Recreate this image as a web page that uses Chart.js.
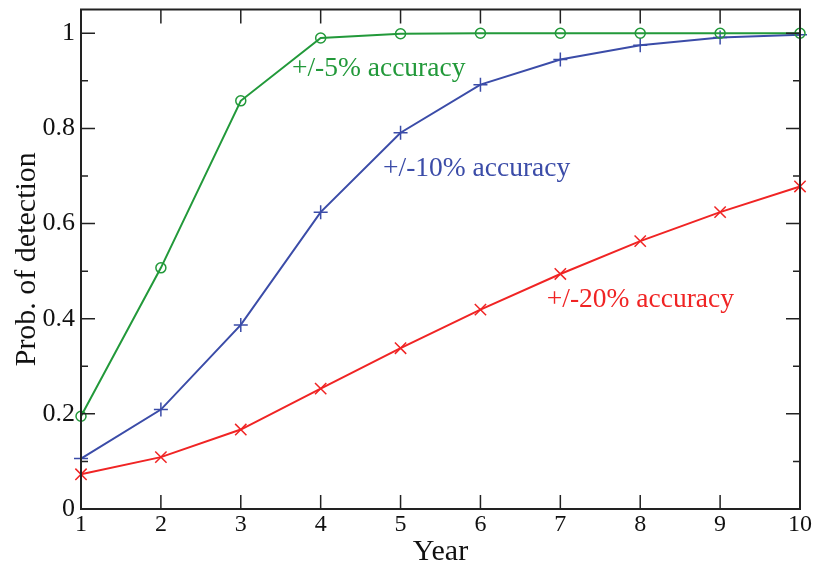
<!DOCTYPE html>
<html>
<head>
<meta charset="utf-8">
<script src="https://cdn.jsdelivr.net/npm/chart.js@4.4.0/dist/chart.umd.min.js"></script>
<style>
  html, body { margin: 0; padding: 0; background: #fff; }
  #wrap { width: 814px; height: 569px; }
</style>
</head>
<body>
<div id="wrap"><canvas id="mycanvas" width="814" height="569"></canvas></div>
<script>
// data
var years = [1, 2, 3, 4, 5, 6, 7, 8, 9, 10];
var acc5  = [0.195, 0.507, 0.858, 0.990, 0.999, 1.0, 1.0, 1.0, 1.0, 1.0];
var acc10 = [0.106, 0.209, 0.387, 0.624, 0.791, 0.892, 0.945, 0.975, 0.991, 0.997];
var acc20 = [0.073, 0.109, 0.167, 0.253, 0.338, 0.419, 0.494, 0.563, 0.624, 0.678];
var yTicks = [0, 0.2, 0.4, 0.6, 0.8, 1];
var seriesNames = ['+/-5% accuracy', '+/-10% accuracy', '+/-20% accuracy'];

var GREEN = '#22993a';
var BLUE = '#3b4ca8';
var RED = '#f02424';
var FONT = '"Liberation Serif", "DejaVu Serif", serif';

function pts(ys) {
	var out = [];
	for (var i in years) out.push({x: years[i], y: ys[i]});
	return out;
}

// text labels placed next to the curves, in data units
var notes = [
	{text: seriesNames[0], x: 3.64, y: 0.925, color: GREEN},
	{text: seriesNames[1], x: 4.78, y: 0.715, color: BLUE},
	{text: seriesNames[2], x: 6.83, y: 0.439, color: RED}
];

// frame + inward ticks on all four sides, like the original
var framePlugin = {
	id: 'frame',
	afterDatasetsDraw: function(chart) {
		var c = chart.ctx, a = chart.chartArea;
		var xs = chart.scales.x, ys = chart.scales.y;
		c.save();
		c.strokeStyle = '#222';
		c.lineWidth = 1.5;
		c.beginPath();
		for (var i in years) {
			var px = xs.getPixelForValue(years[i]);
			c.moveTo(px, a.bottom); c.lineTo(px, a.bottom - 14);
			c.moveTo(px, a.top); c.lineTo(px, a.top + 14);
		}
		for (var k = 0; k <= 10; k++) {
			var v = k / 10;
			var py = ys.getPixelForValue(v);
			var len = (k % 2 == 0) ? 14 : 7;
			c.moveTo(a.left, py); c.lineTo(a.left + len, py);
			c.moveTo(a.right, py); c.lineTo(a.right - len, py);
		}
		c.stroke();
		c.lineWidth = 2;
		c.strokeRect(a.left, a.top, a.right - a.left, a.bottom - a.top);
		c.restore();
	},
	afterDraw: function(chart) {
		var c = chart.ctx;
		var xs = chart.scales.x, ys = chart.scales.y;
		c.save();
		c.font = '27.5px ' + FONT;
		c.textAlign = 'left';
		c.textBaseline = 'middle';
		for (var i in notes) {
			c.fillStyle = notes[i].color;
			c.fillText(notes[i].text, xs.getPixelForValue(notes[i].x), ys.getPixelForValue(notes[i].y));
		}
		c.restore();
	}
};

var chartdata = {
	datasets: [
		{
			label: seriesNames[0],
			data: pts(acc5),
			borderColor: GREEN,
			backgroundColor: 'rgba(0,0,0,0)',
			borderWidth: 2,
			pointStyle: 'circle',
			pointRadius: 5,
			pointBorderWidth: 1.5,
			pointBorderColor: GREEN,
			pointBackgroundColor: 'rgba(0,0,0,0)',
			clip: false
		},
		{
			label: seriesNames[1],
			data: pts(acc10),
			borderColor: BLUE,
			backgroundColor: BLUE,
			borderWidth: 2,
			pointStyle: 'cross',
			pointRadius: 7,
			pointBorderWidth: 1.5,
			pointBorderColor: BLUE,
			clip: false
		},
		{
			label: seriesNames[2],
			data: pts(acc20),
			borderColor: RED,
			backgroundColor: RED,
			borderWidth: 2,
			pointStyle: 'crossRot',
			pointRadius: 8,
			pointBorderWidth: 1.5,
			pointBorderColor: RED,
			clip: false
		}
	]
};

var ctx = document.getElementById('mycanvas');

var lineGraph = new Chart(ctx, {
	type: 'line',
	data: chartdata,
	plugins: [framePlugin],
	options: {
		responsive: false,
		animation: false,
		events: [],
		layout: { padding: { left: 0, right: 14, top: 7, bottom: 0 } },
		plugins: { legend: { display: false }, tooltip: { enabled: false } },
		scales: {
			x: {
				type: 'linear',
				min: 1,
				max: 10,
				afterBuildTicks: function(s) { s.ticks = years.map(function(v){ return {value: v}; }); },
				afterFit: function(s) { s.height = 60; s.paddingLeft = 0; s.paddingRight = 0; },
				grid: { display: false, drawTicks: false },
				border: { display: false },
				ticks: { color: '#111', padding: 1, maxRotation: 0, font: { family: FONT, size: 24 } },
				title: { display: true, text: 'Year', color: '#111', padding: { top: 0, bottom: 2 }, font: { family: FONT, size: 30, lineHeight: 1 } }
			},
			y: {
				type: 'linear',
				min: 0,
				max: 1.05,
				afterBuildTicks: function(s) { s.ticks = yTicks.map(function(v){ return {value: v}; }); },
				afterFit: function(s) { s.width = 81; s.paddingTop = 0; s.paddingBottom = 0; },
				grid: { display: false, drawTicks: false },
				border: { display: false },
				ticks: {
					color: '#111', padding: 6, font: { family: FONT, size: 26 },
					callback: function(v) { return String(v); }
				},
				title: { display: true, text: 'Prob. of detection', color: '#111', padding: { top: 12, bottom: 0 }, font: { family: FONT, size: 30, lineHeight: 1 } }
			}
		}
	}
});
</script>
</body>
</html>
